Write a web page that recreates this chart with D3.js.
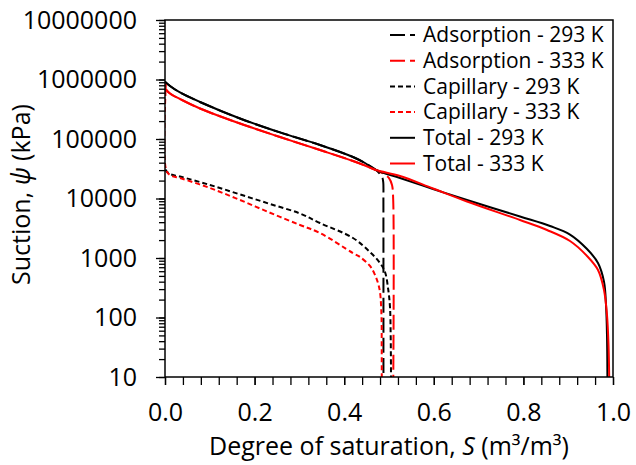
<!DOCTYPE html>
<html><head><meta charset="utf-8">
<script src="https://cdn.jsdelivr.net/npm/d3@7"></script>
<style>
body{margin:0;background:#fff}
text{font-family:"Open Sans",sans-serif;fill:#000}
</style>
</head><body>
<svg id="c" width="636" height="465"></svg>
<script>
// ---- data ----
const seriesNames = ["Adsorption - 293 K","Adsorption - 333 K","Capillary - 293 K","Capillary - 333 K","Total - 293 K","Total - 333 K"];

const sAds293   = [0,0.0112,0.0335,0.0781,0.1674,0.2567,0.346,0.4196,0.4464,0.471,0.4799,0.4855,0.4873,0.4875,0.4876];
const psiAds293 = [920000,778000,605000,419000,221000,129000,79300,49800,39500,30100,25800,22100,18200,9400,10];

const sAds333   = [0,0.0112,0.0335,0.0781,0.1674,0.2567,0.346,0.4196,0.4464,0.471,0.4866,0.5,0.5067,0.5094,0.5096];
const psiAds333 = [711000,582000,470000,326000,182000,108000,65300,42700,35900,30100,26300,22100,16900,9400,10];

const sCap293   = [0,0.0005,0.0112,0.0335,0.1004,0.1674,0.2344,0.3013,0.346,0.4196,0.4576,0.4799,0.4911,0.4984,0.5022,0.5038,0.5045];
const psiCap293 = [920000,31000,25800,23400,16900,11700,8090,5600,3870,2170,1260,824,582,290,150,47,10];

const sCap333   = [0.002,0.0022,0.0112,0.0335,0.1004,0.1674,0.2344,0.3013,0.346,0.4196,0.4353,0.4576,0.4688,0.4754,0.4799,0.4833,0.4837,0.4839];
const psiCap333 = [873000,31000,24800,22100,15000,9440,5770,3590,2630,1210,1040,734,518,380,268,102,34.5,10];

const sTot293   = [0,0.0112,0.0335,0.0781,0.1674,0.2567,0.346,0.4196,0.4464,0.471,0.5246,0.5982,0.6741,0.7924,0.8594,0.904,0.942,0.9665,0.9799,0.9844,0.9866,0.9875];
const psiTot293 = [920000,778000,605000,419000,221000,129000,79300,49800,39500,30100,22100,14450,9440,4980,3450,2480,1417,824,400,162,51,10];

const sTot333   = [0,0.0112,0.0335,0.0781,0.1674,0.2567,0.346,0.4196,0.4464,0.471,0.5246,0.5982,0.6741,0.7924,0.8527,0.904,0.942,0.9665,0.9799,0.9866,0.99,0.9915];
const psiTot333 = [711000,582000,470000,326000,182000,108000,65300,42700,35900,30100,23900,14720,8910,4350,2955,1930,1081,629,290,110,34.5,10];

const xTickValues = [0,0.2,0.4,0.6,0.8,1.0];
const xTickLabels = ["0.0","0.2","0.4","0.6","0.8","1.0"];
const yTickValues = [10,100,1000,10000,100000,1000000,10000000];
const yTickLabels = ["10","100","1000","10000","100000","1000000","10000000"];

// ---- chart ----
const svg = d3.select("#c");
const L=165, R=613, T=20, B=377;
const x = d3.scaleLinear().domain([0,1]).range([L,R]);
const y = d3.scaleLog().domain([10,1e7]).range([B,T]);

const series = [
  {s:sAds293, p:psiAds293, color:"#000000", dash:"15,5"},
  {s:sAds333, p:psiAds333, color:"#ff0000", dash:"15,5"},
  {s:sCap293, p:psiCap293, color:"#000000", dash:"5,3"},
  {s:sCap333, p:psiCap333, color:"#ff0000", dash:"5,3"},
  {s:sTot293, p:psiTot293, color:"#000000", dash:null},
  {s:sTot333, p:psiTot333, color:"#ff0000", dash:null}
];

svg.append("defs").append("clipPath").attr("id","clip")
  .append("rect").attr("x",L).attr("y",T).attr("width",R-L).attr("height",B-T);

const line = d3.line().x(d=>x(d[0])).y(d=>y(d[1])).curve(d3.curveCatmullRom.alpha(0.5));
const plot = svg.append("g").attr("clip-path","url(#clip)");
series.forEach(se=>{
  const pts = se.s.map((v,i)=>[v,se.p[i]]);
  plot.append("path").attr("d",line(pts)).attr("fill","none")
    .attr("stroke",se.color).attr("stroke-width",2)
    .attr("stroke-dasharray",se.dash);
});

// axes
const fs = "25px";
const yMinor = svg.append("g").attr("transform",`translate(${L},0)`)
  .call(d3.axisLeft(y).tickValues(y.ticks()).tickSize(6).tickFormat(""));
const yMajor = svg.append("g").attr("transform",`translate(${L},0)`)
  .call(d3.axisLeft(y).tickValues(yTickValues).tickSize(9).tickPadding(19)
    .tickFormat((d,i)=>yTickLabels[i]));
const xMinor = svg.append("g").attr("transform",`translate(0,${B})`)
  .call(d3.axisBottom(x).tickValues(d3.range(0,26).map(i=>i*0.04)).tickSize(8).tickFormat(""));
const xMajor = svg.append("g").attr("transform",`translate(0,${B})`)
  .call(d3.axisBottom(x).tickValues(xTickValues).tickSize(8).tickPadding(18)
    .tickFormat((d,i)=>xTickLabels[i]));
[yMinor,yMajor,xMinor,xMajor].forEach(g=>{
  g.select(".domain").remove();
  g.selectAll("line").attr("stroke","#000").attr("stroke-width",1.3);
  g.selectAll("text").style("font-size",fs).style("font-family","'Open Sans',sans-serif").attr("fill","#000");
});

svg.append("rect").attr("x",L).attr("y",T).attr("width",R-L).attr("height",B-T)
  .attr("fill","none").attr("stroke","#000").attr("stroke-width",1.5);

// axis titles
const xt = svg.append("text").attr("x",(L+R)/2).attr("y",455).attr("text-anchor","middle").style("font-size",fs);
xt.append("tspan").text("Degree of saturation, ");
xt.append("tspan").style("font-style","italic").text("S");
xt.append("tspan").text(" (m³/m³)");

const yt = svg.append("text").attr("transform",`translate(30,${(T+B)/2-4}) rotate(-90)`)
  .attr("text-anchor","middle").style("font-size",fs);
yt.append("tspan").text("Suction, ");
yt.append("tspan").style("font-style","italic").text("ψ");
yt.append("tspan").text(" (kPa)");

// legend
const lg = svg.append("g");
seriesNames.forEach((n,i)=>{
  const cy = 35 + i*25.7;
  lg.append("line").attr("x1",390).attr("x2",415).attr("y1",cy).attr("y2",cy)
    .attr("stroke",series[i].color).attr("stroke-width",2)
    .attr("stroke-dasharray",series[i].dash);
  lg.append("text").attr("x",423).attr("y",cy).attr("dy","0.35em")
    .style("font-size","21px").text(n);
});
</script>
</body></html>
